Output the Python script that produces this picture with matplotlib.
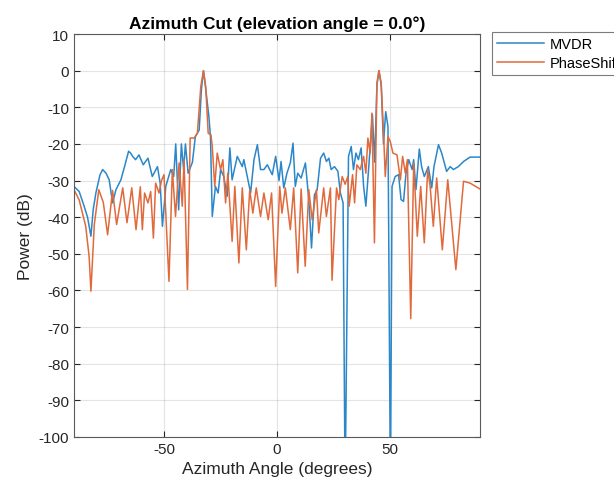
import numpy as np
import matplotlib.pyplot as plt

plt.rcParams['font.family'] = ['Liberation Sans', 'DejaVu Sans']
plt.rcParams['axes.unicode_minus'] = False

# values (angle in degrees, power in dB)
mvdr_ang = [-90, -87.7, -85.5, -84, -82.5, -81.5, -80.3, -78.5, -77.3, -75.8, -74.4, -72.9, -71.4,
            -69.2, -67.5, -65.8, -64.9, -64, -62.7, -61.2, -59.3, -57.2, -55.3, -53, -51.8, -50.8,
            -49.3, -47.1, -45.8, -44.9, -43.6, -42.4, -41.4, -40.6, -39.4, -37.5, -36.2, -34.5,
            -33.5, -32.6, -31.6, -30.2, -29.5, -28.7, -27.3, -26.1, -25, -23.6, -22.1, -20.9,
            -19.9, -17.6, -15.4, -14.7, -13.2, -11.7, -10.2, -8.7, -7.3, -5.8, -4.3, -2.1, -0.6,
            0.9, 1.8, 3, 4.4, 5.9, 7.1, 8.1, 9.2, 10.7, 12.6, 14.1, 15.3, 16.6, 17.8, 19.3, 20.7,
            21.9, 23, 24, 25.5, 27, 28.1, 29.3, 30.2, 31.7, 32.9, 33.9, 35, 36.1, 37.3, 38.4, 39.4,
            40.6, 42.3, 43.3, 44.3, 45.2, 46.2, 47.2, 48.2, 49.2, 50.3, 51, 52.4, 53.9, 55, 56.1,
            57.2, 58.4, 59.9, 60.6, 61.6, 63.1, 64.1, 65.3, 67.1, 68.6, 69.6, 71.6, 73, 75.2, 76.8,
            78.2, 80.4, 82.7, 85.6, 90]
mvdr_db = [-31.6, -33, -37, -40, -45.2, -38, -33.4, -28.5, -27, -28, -29.8, -36.1, -32.5,
           -29.8, -26, -22, -22.5, -23.4, -24.3, -23, -25.7, -23.9, -28.9, -26.2, -30.7, -42.5,
           -31.6, -27, -28.9, -20, -38, -20, -27, -20, -28, -25, -18, -16.2,
           -5, 0, -5, -12.5, -18, -39.8, -31.6, -33.4, -27, -28.9, -34.3, -21.1,
           -29.8, -23.4, -26.2, -24.3, -28.9, -33.4, -24.3, -20.2, -27, -27, -25.7, -28.4, -23.4,
           -30, -24.8, -32, -28, -25.2, -19.8, -31.6, -28, -29.3, -25.2, -35.2, -48.4, -33.9, -32.5, -23.9, -22.5,
           -24.8, -23.9, -27, -26.2, -27.5, -33.4, -36.1, -115, -23.4, -20.7, -27, -22.5, -24.3, -21.1, -31.6, -37,
           -27, -12, -25, -4, 0, -4, -20, -11.2, -15.3, -115, -31.6, -28.9, -28.4, -35.2, -35.7,
           -28, -24.3, -27, -24.3, -32.5, -21.4, -26.2, -28.9, -26.2, -32, -26.2, -20.2, -22.5, -27.5, -26.2,
           -27, -26.2, -24.8, -23.6, -23.6]

phase_ang = [-90, -87.7, -84.8, -83.3, -82.5, -81, -79, -77, -75.1, -72.9, -71.1, -68.4, -66.5, -64.4,
             -62.5, -60.6, -59.7, -58.7, -57.2, -56, -54.8, -53.8, -52.3, -51.2, -50.1, -47.9, -46.4,
             -45, -43.4, -42, -41.2, -39.7, -38.5, -36.7, -35.3, -33.8, -32.6, -31.6, -30.5, -29.3,
             -28.7, -27.6, -26.5, -25, -24, -22.8, -21.8, -19.9, -18.7, -16.9, -15.4, -13.6, -12.1,
             -10.7, -9.2, -7.3, -5.8, -3.9, -2.4, -0.6, 1.2, 2.2, 3.7, 5.9, 7.4, 9.2, 10.7, 12.5,
             14.1, 15.6, 17.5, 18.5, 20.7, 21.9, 23.7, 24.4, 26.4, 27.4, 28.9, 30.2, 31.4, 32, 33.5,
             34.4, 35.4, 36.9, 38.4, 39.4, 40.3, 41.3, 42.1, 43.2, 44.3, 45.2, 46.2, 47.3, 48, 49.2,
             50.2, 51.4, 53.2, 54.7, 55.7, 56.9, 57.8, 59.3, 60.6, 62.2, 63.7, 65.3, 66.8, 67.9,
             69.3, 70.8, 73.3, 75.7, 79.3, 82.7, 85.6, 90]
phase_db = [-32.5, -35.3, -42.5, -50.7, -60.2, -42, -32.5, -36, -44.8, -32.7, -42, -32, -41.5, -32,
            -43.4, -31.7, -43.4, -33.4, -36.1, -33, -45.7, -30.7, -33.4, -30, -28.4, -57.5, -27,
            -39.8, -25.2, -37, -24.3, -59.7, -18.4, -18.4, -17.1, -4.4, 0, -4.4, -17.1, -17.5,
            -20.7, -31.6, -22.5, -27, -24.3, -36.1, -28, -46.6, -31.6, -52.5, -32, -48.9, -32.5,
            -38.9, -32, -39.8, -33.4, -40.7, -33.4, -58.9, -31.6, -38.9, -32, -43.4, -32, -55.2, -32.3, -53.4,
            -32.5, -40.7, -32.5, -44.3, -32, -39.8, -32, -57.2, -32, -35.2, -28.9, -31, -28.9, -37, -28.4,
            -36.1, -25.7, -27, -23.4, -28, -18.4, -22.5, -11.6, -47, -3.4, 0, -3.4, -18, -28.9, -18,
            -19.3, -22.5, -23, -29.8, -23.4, -28, -24.3, -67.7, -25.2, -45.2, -31.6, -47, -27, -31.6,
            -42.5, -29.3, -48.9, -29.8, -54.3, -30.2, -30.7, -32.3]

fig = plt.figure(figsize=(6.14, 4.89), dpi=100)
ax = fig.add_axes([74/614, 1-438/489, (480-74)/614, (438-35)/489])

ax.plot(mvdr_ang, mvdr_db, color='#2b87c9', lw=1.1, label='MVDR')
ax.plot(phase_ang, phase_db, color='#e06a3c', lw=1.1, label='PhaseShift')

ax.set_xlim(-90, 90)
ax.set_ylim(-100, 10)
ax.set_xticks([-50, 0, 50])
ax.set_yticks(np.arange(-100, 11, 10))
ax.grid(True, color='#262626', alpha=0.12, lw=0.8)
ax.tick_params(direction='in', top=True, right=True, labelsize=11, colors='#262626', length=4)
for s in ax.spines.values():
    s.set_color('#5a5a5a')
    s.set_linewidth(0.8)

ax.set_title('Azimuth Cut (elevation angle = 0.0°)', fontsize=12.5, fontweight='bold', pad=4)
ax.set_xlabel('Azimuth Angle (degrees)', fontsize=12.5, color='#262626')
ax.set_ylabel('Power (dB)', fontsize=12.5, color='#262626')

leg = fig.legend(loc='upper left', bbox_to_anchor=(492/614, 1-33/489), fontsize=10.5,
                 frameon=True, fancybox=False, handlelength=3.2, borderpad=0.35,
                 labelspacing=0.35, handletextpad=0.4, borderaxespad=0)
leg.get_frame().set_edgecolor('#5a5a5a')
leg.get_frame().set_linewidth(0.8)

fig.savefig('out.png', dpi=100)
